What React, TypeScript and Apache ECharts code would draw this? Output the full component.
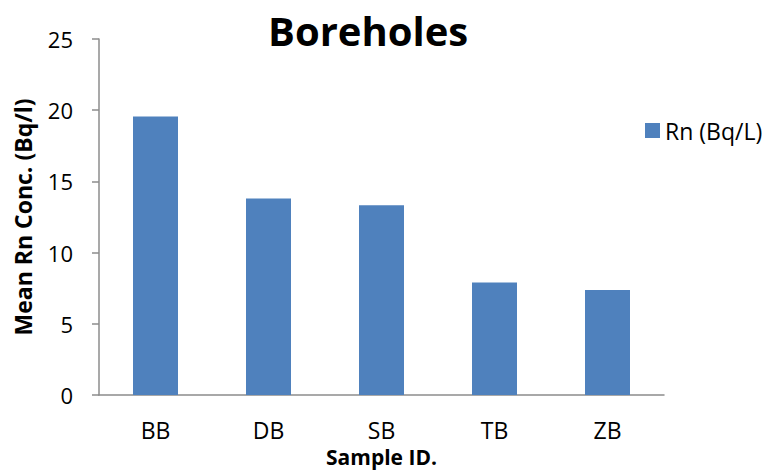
import React, { useEffect, useRef } from "react";
import * as echarts from "echarts";

const categories = ["BB", "DB", "SB", "TB", "ZB"];
const rnValues = [19.55, 13.8, 13.33, 7.9, 7.38];
const seriesName = "Rn (Bq/L)";
const titleText = "Boreholes";
const yAxisName = "Mean Rn Conc. (Bq/l)";
const xAxisName = "Sample ID.";

const FONT = "'Open Sans', 'Liberation Sans', sans-serif";

export default function App() {
  const ref = useRef<HTMLDivElement>(null);
  useEffect(() => {
    if (!ref.current) return;
    const chart = echarts.init(ref.current, undefined, { renderer: "svg" });
    chart.setOption({
      animation: false,
      backgroundColor: "#ffffff",
      textStyle: { fontFamily: FONT },
      title: {
        text: titleText,
        left: 268,
        top: 10,
        padding: 0,
        textStyle: { fontSize: 40, fontWeight: "bold", color: "#000", fontFamily: FONT },
      },
      legend: {
        data: [seriesName],
        left: 645,
        top: 119,
        padding: 0,
        icon: "rect",
        itemWidth: 15,
        itemHeight: 15,
        itemGap: 5,
        textStyle: { fontSize: 23, color: "#000", fontFamily: FONT },
      },
      grid: { left: 99, top: 39, width: 565, height: 360, containLabel: false },
      xAxis: {
        type: "category",
        data: categories,
        name: xAxisName,
        nameLocation: "middle",
        nameGap: 51,
        nameTextStyle: { fontSize: 21, fontWeight: "bold", color: "#000", fontFamily: FONT },
        axisLine: { lineStyle: { color: "#8c8c8c", width: 1.5 } },
        axisTick: { show: false },
        axisLabel: { fontSize: 23, color: "#000", margin: 23, fontFamily: FONT },
      },
      yAxis: {
        type: "value",
        min: 0,
        max: 25,
        interval: 5,
        name: yAxisName,
        nameLocation: "middle",
        nameGap: 65,
        nameTextStyle: { fontSize: 23, fontWeight: "bold", color: "#000", fontFamily: FONT },
        axisLine: { show: true, lineStyle: { color: "#8c8c8c", width: 1.5 } },
        axisTick: { show: true, length: 7, lineStyle: { color: "#8c8c8c", width: 1.5 } },
        splitLine: { show: false },
        axisLabel: { fontSize: 22, color: "#000", margin: 26, fontFamily: FONT },
      },
      series: [
        {
          name: seriesName,
          type: "bar",
          data: rnValues,
          barWidth: 45,
          itemStyle: { color: "#4F81BD" },
        },
      ],
    });
    return () => chart.dispose();
  }, []);
  return (
    <div
      ref={ref}
      style={{ position: "absolute", left: 0, top: 0, width: 764, height: 472 }}
    />
  );
}
